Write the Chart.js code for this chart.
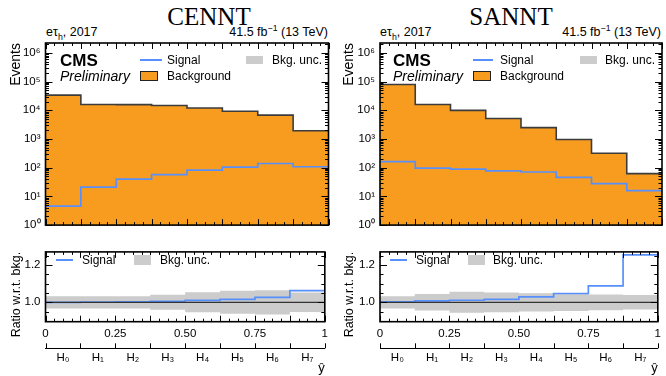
<!DOCTYPE html>
<html>
<head>
<meta charset="utf-8">
<script src="https://cdn.jsdelivr.net/npm/chart.js@4.4.0/dist/chart.umd.min.js"></script>
<style>
  body { margin: 0; width: 666px; height: 376px; background: #fff; position: relative; overflow: hidden;
         font-family: "Liberation Sans", Arial, sans-serif; color: #000; }
  canvas { position: absolute; }
  .t { position: absolute; white-space: nowrap; line-height: 1; }
  .title { font-family: "Liberation Serif", "Times New Roman", serif; font-size: 25px; transform: translateX(-50%); }
  .small { font-size: 12.5px; }
  .leg { font-size: 12px; }
  .cms { font-size: 17px; font-weight: bold; }
  .prelim { font-size: 14px; font-style: italic; }
  .line { position: absolute; height: 2px; background: #5790fc; }
  .box { position: absolute; }
  sub, sup { font-size: 70%; line-height: 0; }
</style>
</head>
<body>
<div class="t title" style="left:209px; top:4px;">CENNT</div>
<div class="t title" style="left:511px; top:4px;">SANNT</div>

<div class="t small" style="left:46px; top:26px;">eτ<sub>h</sub>, 2017</div>
<div class="t small" style="right:338px; top:26px;">41.5 fb<sup>−1</sup> (13 TeV)</div>
<div class="t small" style="left:380px; top:26px;">eτ<sub>h</sub>, 2017</div>
<div class="t small" style="right:5px; top:26px;">41.5 fb<sup>−1</sup> (13 TeV)</div>

<canvas id="mainL" width="333" height="237" style="left:0; top:0;"></canvas>
<canvas id="ratioL" width="333" height="136" style="left:0; top:240px;"></canvas>
<canvas id="mainR" width="333" height="237" style="left:333px; top:0;"></canvas>
<canvas id="ratioR" width="333" height="136" style="left:333px; top:240px;"></canvas>

<!-- main legends -->
<div class="t cms" style="left:60px; top:52px;">CMS</div>
<div class="t prelim" style="left:60px; top:69px;">Preliminary</div>
<div class="line" style="left:140px; top:59px; width:22px;"></div>
<div class="t leg" style="left:167px; top:54px;">Signal</div>
<div class="box" style="left:140px; top:71px; width:16px; height:8px; background:#f89c20; border:1px solid #222;"></div>
<div class="t leg" style="left:167px; top:70px;">Background</div>
<div class="box" style="left:246px; top:56px; width:17px; height:8px; background:#cccccc;"></div>
<div class="t leg" style="left:272px; top:54px;">Bkg. unc.</div>

<div class="t cms" style="left:393px; top:52px;">CMS</div>
<div class="t prelim" style="left:393px; top:69px;">Preliminary</div>
<div class="line" style="left:473px; top:59px; width:20px;"></div>
<div class="t leg" style="left:500px; top:54px;">Signal</div>
<div class="box" style="left:473px; top:71px; width:16px; height:8px; background:#f89c20; border:1px solid #222;"></div>
<div class="t leg" style="left:500px; top:70px;">Background</div>
<div class="box" style="left:580px; top:56px; width:17px; height:8px; background:#cccccc;"></div>
<div class="t leg" style="left:605px; top:54px;">Bkg. unc.</div>

<!-- ratio legends -->
<div class="line" style="left:56px; top:259px; width:17px;"></div>
<div class="t leg" style="left:82px; top:254px;">Signal</div>
<div class="box" style="left:134px; top:255px; width:17px; height:10px; background:#cccccc;"></div>
<div class="t leg" style="left:160px; top:254px;">Bkg. unc.</div>

<div class="line" style="left:390px; top:259px; width:17px;"></div>
<div class="t leg" style="left:416px; top:254px;">Signal</div>
<div class="box" style="left:468px; top:255px; width:17px; height:10px; background:#cccccc;"></div>
<div class="t leg" style="left:493px; top:254px;">Bkg. unc.</div>

<script>
// bin labels along the score axis
const binLabels = ["H₀", "H₁", "H₂", "H₃", "H₄", "H₅", "H₆", "H₇"];
const ratioTickLabels = { 0: "0", 0.25: "0.25", 0.5: "0.50", 0.75: "0.75", 1: "1" };

// CENNT
const cenntBkg = [34000, 16000, 15800, 14800, 12000, 9300, 6800, 1950];
const cenntSig = [4.6, 21, 40, 57, 83, 105, 140, 108];
const cenntRatio = [1.000, 1.001, 1.002, 1.005, 1.010, 1.016, 1.026, 1.062];
const cenntUnc = [0.033, 0.033, 0.033, 0.040, 0.054, 0.062, 0.065, 0.052];

// SANNT
const sanntBkg = [79000, 16000, 10000, 5200, 2500, 960, 320, 62];
const sanntSig = [163, 97, 90, 78, 71, 46, 28, 16];
const sanntRatio = [1.002, 1.008, 1.011, 1.016, 1.029, 1.047, 1.088, 1.254];
const sanntUnc = [0.033, 0.044, 0.056, 0.053, 0.049, 0.046, 0.042, 0.039];

const FONT = "'Liberation Sans', Arial, sans-serif";
const YMAX = 2.22e6;
const RMIN = 0.896, RMAX = 1.27;

function steps(vals) {
  var pts = vals.map(function(v, i) { return { x: i / vals.length, y: v }; });
  pts.push({ x: 1, y: vals[vals.length - 1] });
  return pts;
}

function sup(n) {
  return String(n).split("").map(function(c) { return "⁰¹²³⁴⁵⁶⁷⁸⁹"[+c]; }).join("");
}

// tick positions for the frame
var xMajor = [], xMinor = [];
for (let k = 0; k <= 32; k++) {
  if (k % 4 === 0) xMajor.push(k / 32); else xMinor.push(k / 32);
}
var logMajor = [], logMinor = [];
for (let e = 0; e <= 6; e++) {
  logMajor.push(Math.pow(10, e));
  for (let m = 2; m <= 9; m++) {
    if (m * Math.pow(10, e) < YMAX) logMinor.push(m * Math.pow(10, e));
  }
}

// inward ticks on all four sides plus the black frame
const cmsFrame = {
  id: "cmsFrame",
  afterDatasetsDraw(chart, args, o) {
    const ctx = chart.ctx, a = chart.chartArea;
    const sx = chart.scales.x, sy = chart.scales.y;
    ctx.save();
    ctx.strokeStyle = "#000";
    ctx.lineWidth = 1;
    ctx.beginPath();
    [[o.xMajor, 6], [o.xMinor, 3]].forEach(function(p) {
      p[0].forEach(function(v) {
        const px = Math.round(sx.getPixelForValue(v)) + 0.5;
        ctx.moveTo(px, a.bottom); ctx.lineTo(px, a.bottom - p[1]);
        ctx.moveTo(px, a.top); ctx.lineTo(px, a.top + p[1]);
      });
    });
    [[o.yMajor, 7], [o.yMinor, 3.5]].forEach(function(p) {
      p[0].forEach(function(v) {
        const py = Math.round(sy.getPixelForValue(v)) + 0.5;
        ctx.moveTo(a.left, py); ctx.lineTo(a.left + p[1], py);
        ctx.moveTo(a.right, py); ctx.lineTo(a.right - p[1], py);
      });
    });
    if (o.hAxis) {
      const h = chart.scales.h;
      o.xMajor.forEach(function(v) {
        const px = Math.round(sx.getPixelForValue(v)) + 0.5;
        ctx.moveTo(px, h.top); ctx.lineTo(px, h.top - 5);
      });
    }
    ctx.stroke();
    ctx.lineWidth = 1.6;
    ctx.strokeRect(a.left, a.top, a.right - a.left, a.bottom - a.top);
    ctx.restore();
  }
};

function mainChart(id, bkg, sig, axisW, padRight) {
  return new Chart(document.getElementById(id), {
    type: "line",
    data: {
      datasets: [
        { label: "Signal", data: steps(sig), borderColor: "#5790fc", borderWidth: 1.7,
          stepped: true, pointRadius: 0, fill: false, order: 0 },
        { label: "Background", data: steps(bkg), borderColor: "#3c3c3c", borderWidth: 1.6,
          backgroundColor: "#f89c20", stepped: true, pointRadius: 0, fill: "start", order: 1 }
      ]
    },
    options: {
      responsive: false,
      animation: false,
      events: [],
      layout: { padding: { top: 43, right: padRight, bottom: 6, left: 0 } },
      plugins: {
        legend: { display: false },
        tooltip: { enabled: false },
        cmsFrame: { xMajor: xMajor, xMinor: xMinor, yMajor: logMajor, yMinor: logMinor }
      },
      scales: {
        x: { type: "linear", min: 0, max: 1, display: false },
        y: {
          type: "logarithmic", min: 1, max: YMAX,
          grid: { display: false, drawTicks: false },
          border: { display: false },
          afterBuildTicks: function(s) { s.ticks = logMajor.map(function(v) { return { value: v }; }); },
          afterFit: function(s) { s.width = axisW; },
          ticks: {
            padding: 5, color: "#000", autoSkip: false,
            font: { family: FONT, size: 11.5 },
            callback: function(v) { return "10" + sup(Math.round(Math.log10(v))); }
          },
          title: { display: true, text: "Events", align: "end", color: "#000",
                   font: { family: FONT, size: 14 }, padding: { top: 8, bottom: 0 } }
        }
      }
    },
    plugins: [cmsFrame]
  });
}

function ratioChart(id, ratio, unc, axisW, padRight) {
  const up = ratio.map(function(r, i) { return 1 + unc[i]; });
  const dn = ratio.map(function(r, i) { return 1 - unc[i]; });
  return new Chart(document.getElementById(id), {
    type: "line",
    data: {
      datasets: [
        { label: "one", data: [{ x: 0, y: 1 }, { x: 1, y: 1 }], borderColor: "#333", borderWidth: 1.2,
          pointRadius: 0, fill: false, order: 0 },
        { label: "Signal", data: steps(ratio), borderColor: "#5790fc", borderWidth: 1.7,
          stepped: true, pointRadius: 0, fill: false, order: 1 },
        { label: "Bkg. unc.", data: steps(up), borderWidth: 0, borderColor: "rgba(0,0,0,0)",
          backgroundColor: "#cccccc", stepped: true, pointRadius: 0, fill: "+1", order: 2 },
        { label: "unc low", data: steps(dn), borderWidth: 0, borderColor: "rgba(0,0,0,0)",
          stepped: true, pointRadius: 0, fill: false, order: 3 }
      ]
    },
    options: {
      responsive: false,
      animation: false,
      events: [],
      layout: { padding: { top: 5, right: padRight, bottom: 0, left: 0 } },
      plugins: {
        legend: { display: false },
        tooltip: { enabled: false },
        cmsFrame: { xMajor: xMajor, xMinor: xMinor, yMajor: [1.0, 1.2],
                    yMinor: [0.9, 0.95, 1.05, 1.1, 1.15, 1.25], hAxis: true }
      },
      scales: {
        x: {
          type: "linear", min: 0, max: 1, position: "bottom",
          grid: { display: false, drawTicks: false },
          border: { display: false },
          afterBuildTicks: function(s) { s.ticks = [0, 0.25, 0.5, 0.75, 1].map(function(v) { return { value: v }; }); },
          afterFit: function(s) { s.height = 26.6; },
          ticks: {
            padding: 5, color: "#000", autoSkip: false, maxRotation: 0,
            font: { family: FONT, size: 11.5 },
            callback: function(v) { return ratioTickLabels[v]; }
          }
        },
        h: {
          type: "linear", min: 0, max: 1, position: "bottom",
          grid: { display: false, drawTicks: false },
          border: { display: true, color: "#000", width: 1 },
          afterBuildTicks: function(s) {
            s.ticks = binLabels.map(function(l, i) { return { value: (i + 0.5) / binLabels.length }; });
          },
          afterFit: function(s) { s.height = 27.7; },
          ticks: {
            padding: 3, color: "#000", autoSkip: false, maxRotation: 0,
            font: { family: FONT, size: 11.5 },
            callback: function(v, i) { return binLabels[i]; }
          },
          title: { display: true, text: "ŷ", align: "end", color: "#000",
                   font: { family: FONT, size: 13 }, padding: 0 }
        },
        y: {
          type: "linear", min: RMIN, max: RMAX,
          grid: { display: false, drawTicks: false },
          border: { display: false },
          afterBuildTicks: function(s) { s.ticks = [1.0, 1.2].map(function(v) { return { value: v }; }); },
          afterFit: function(s) { s.width = axisW; },
          ticks: {
            padding: 5, color: "#000", autoSkip: false,
            font: { family: FONT, size: 11.5 },
            callback: function(v) { return v.toFixed(1); }
          },
          title: { display: true, text: "Ratio w.r.t. bkg.", align: "end", color: "#000",
                   font: { family: FONT, size: 12.5 }, padding: { top: 9, bottom: 0 } }
        }
      }
    },
    plugins: [cmsFrame]
  });
}

mainChart("mainL", cenntBkg, cenntSig, 45.5, 4.5);
ratioChart("ratioL", cenntRatio, cenntUnc, 45.5, 4.5);
mainChart("mainR", sanntBkg, sanntSig, 47, 4);
ratioChart("ratioR", sanntRatio, sanntUnc, 47, 4);
</script>
</body>
</html>
